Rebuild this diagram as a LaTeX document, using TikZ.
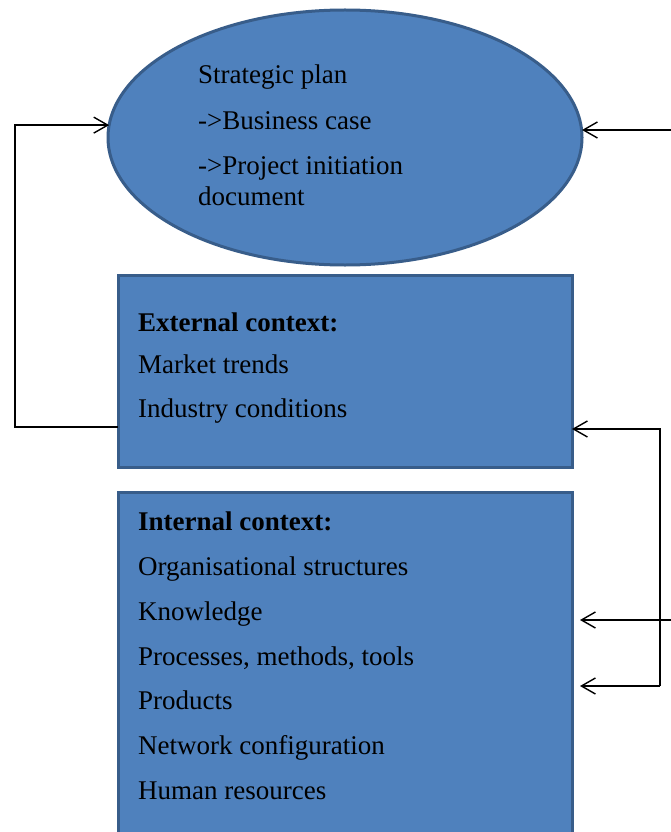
\documentclass[tikz,border=0pt]{standalone}
\usepackage{fontspec}
\setmainfont{Liberation Serif}
\usetikzlibrary{arrows.meta,shapes.geometric}
\definecolor{boxfill}{HTML}{4F81BD}
\definecolor{boxline}{HTML}{385D8A}
\tikzset{
  blockbox/.style={draw=boxline, fill=boxfill, line width=3pt, rectangle, inner sep=0pt, outer sep=0pt},
  ovalbox/.style={draw=boxline, fill=boxfill, line width=3pt, ellipse, inner sep=0pt, outer sep=0pt},
  txt/.style={anchor=base west, inner sep=0pt, font=\fontsize{27}{31}\selectfont},
  conn/.style={line width=1.4pt, -{Straight Barb[length=14pt,width=16pt,line width=1.4pt]}},
  plain/.style={line width=1.4pt}
}
\begin{document}
\begin{tikzpicture}[x=1pt,y=-1pt]
\useasboundingbox (0,0) rectangle (671,832);
\clip (0,0) rectangle (671,832);
\fill[white] (0,0) rectangle (671,832);
% shapes
\node[ovalbox, minimum width=474pt, minimum height=255pt] (E) at (345,137.5) {};
\node[blockbox, minimum width=454pt, minimum height=192pt] (B1) at (345,371) {};
\node[blockbox, minimum width=454pt, minimum height=380pt] (B2) at (345,682) {};
% ellipse text
\node[txt] (e1) at (198,84) {Strategic plan};
\node[txt] (e2) at (198,130) {->Business case};
\node[txt] (e3) at (198,174) {->Project initiation};
\node[txt] (e4) at (198,205) {document};
% external
\node[txt, font=\fontsize{27}{31}\selectfont\bfseries] (x1) at (138,331) {External context:};
\node[txt] (x2) at (138,373) {Market trends};
\node[txt] (x3) at (138,417) {Industry conditions};
% internal
\node[txt, font=\fontsize{27}{31}\selectfont\bfseries] (i1) at (138,530) {Internal context:};
\node[txt] (i2) at (138,575) {Organisational structures};
\node[txt] (i3) at (138,620) {Knowledge};
\node[txt] (i4) at (138,665) {Processes, methods, tools};
\node[txt] (i5) at (138,709) {Products};
\node[txt] (i6) at (138,754) {Network configuration};
\node[txt] (i7) at (138,799) {Human resources};
% connectors
\coordinate (L) at (15,427);
\coordinate (R0) at (675,130);
\coordinate (V1) at (660,429);
\coordinate (V2) at (660,686);
\coordinate (M) at (675,620);
\draw[conn] (B1.west |- L) -- (L) |- (E.177);
\draw[conn] (R0) -- (E.east |- R0);
\draw[conn] (V2) -- (V1) -- (B1.east |- V1);
\draw[conn] (V2) -- ([xshift=8pt]B2.east |- V2);
\draw[conn] (M) -- ([xshift=8pt]B2.east |- M);
\end{tikzpicture}
\end{document}
